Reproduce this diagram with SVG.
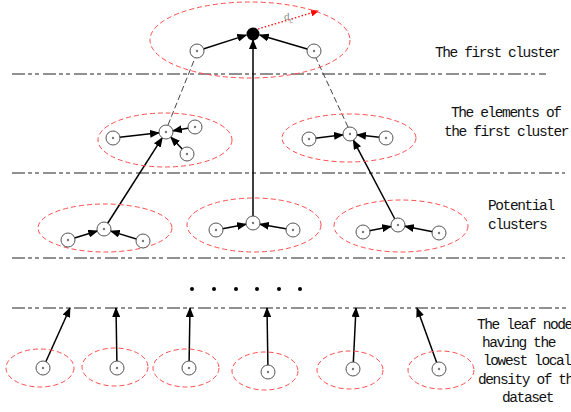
<svg xmlns="http://www.w3.org/2000/svg" width="571" height="412" viewBox="0 0 571 412">
<style>
.sep{stroke:#222;stroke-width:1;stroke-dasharray:13 3 4 3 4 4;fill:none}
.cl{fill:none;stroke:#ff4d4d;stroke-width:1;stroke-dasharray:5 3}
.nd{fill:#fff;stroke:#555;stroke-width:1}
.ndot{fill:#777}
.ar{stroke:#000;stroke-width:1.5;fill:none;marker-end:url(#ah)}
.dl{stroke:#444;stroke-width:1;stroke-dasharray:6 3;fill:none}
.lbl{font-family:"Liberation Mono",monospace;font-size:14.5px;letter-spacing:-1.4px;fill:#111}
</style>
<defs>
<marker id="ah" markerUnits="userSpaceOnUse" markerWidth="10" markerHeight="8" refX="9" refY="4" orient="auto">
<path d="M0,0 L10,4 L0,8 z" fill="#000"/>
</marker>
<marker id="rah" markerUnits="userSpaceOnUse" markerWidth="8" markerHeight="7" refX="7" refY="3.5" orient="auto">
<path d="M0,0 L8,3.5 L0,7 z" fill="#f00"/>
</marker>
</defs>

<g id="separators">
<line class="sep" x1="12" y1="74" x2="546" y2="74"/>
<line class="sep" x1="12" y1="173" x2="565" y2="173"/>
<line class="sep" x1="12" y1="258" x2="565" y2="258"/>
<line class="sep" x1="12" y1="308" x2="566" y2="308"/>
</g>

<g id="labels">
<text class="lbl" x="435" y="57">The first cluster</text>
<text class="lbl" x="451" y="117">The elements of</text>
<text class="lbl" x="444" y="136">the first cluster</text>
<text class="lbl" x="488" y="210">Potential</text>
<text class="lbl" x="488" y="229">clusters</text>
<text class="lbl" x="477" y="329">The leaf node</text>
<text class="lbl" x="482" y="347">having the</text>
<text class="lbl" x="483" y="365">lowest local</text>
<text class="lbl" x="478" y="384">density of the</text>
<text class="lbl" x="502" y="402">dataset</text>
</g>

<g id="dots">
<circle cx="192" cy="289" r="2" fill="#000"/>
<circle cx="214" cy="289" r="2" fill="#000"/>
<circle cx="236" cy="289" r="2" fill="#000"/>
<circle cx="257" cy="289" r="2" fill="#000"/>
<circle cx="279" cy="289" r="2" fill="#000"/>
<circle cx="300" cy="289" r="2" fill="#000"/>
</g>

<g id="connectors">
<line class="dl" x1="168" y1="125" x2="195" y2="58"/>
<line class="dl" x1="348" y1="127" x2="316" y2="58"/>
<line class="ar" x1="197" y1="51" x2="246.3" y2="35.1"/>
<line class="ar" x1="314" y1="51" x2="259.7" y2="35"/>
<line class="ar" x1="253" y1="223" x2="253" y2="40"/>
<line class="ar" x1="113" y1="138" x2="159" y2="132.8"/>
<line class="ar" x1="195" y1="127" x2="172.9" y2="130.8"/>
<line class="ar" x1="187" y1="154" x2="170.8" y2="137.1"/>
<line class="ar" x1="104" y1="229" x2="162.2" y2="137.9"/>
<line class="ar" x1="309" y1="139" x2="343" y2="134.8"/>
<line class="ar" x1="386" y1="138" x2="357" y2="134.8"/>
<line class="ar" x1="398" y1="225" x2="353.3" y2="140.2"/>
<line class="ar" x1="68" y1="240" x2="97.3" y2="231"/>
<line class="ar" x1="143" y1="241" x2="110.7" y2="231.1"/>
<line class="ar" x1="216" y1="230" x2="246.1" y2="224.3"/>
<line class="ar" x1="293" y1="230" x2="259.9" y2="224.2"/>
<line class="ar" x1="363" y1="232" x2="391.1" y2="226.4"/>
<line class="ar" x1="439" y1="233" x2="404.9" y2="226.3"/>
<line class="ar" x1="43" y1="368" x2="70" y2="308"/>
<line class="ar" x1="117" y1="368" x2="116" y2="308"/>
<line class="ar" x1="189" y1="368" x2="190" y2="308"/>
<line class="ar" x1="268" y1="372" x2="267" y2="308"/>
<line class="ar" x1="353" y1="369" x2="356" y2="308"/>
<line class="ar" x1="439" y1="369" x2="417" y2="308"/>
<line x1="258" y1="29" x2="318" y2="11" stroke="#f00" stroke-width="1.3" stroke-dasharray="1.5 2" marker-end="url(#rah)"/>
</g>

<g id="cluster-top">
<ellipse class="cl" cx="250" cy="40" rx="100" ry="38"/>
<circle cx="253" cy="34" r="6.5" fill="#000"/>
<text x="284" y="20" font-family="Liberation Serif, serif" font-size="11" fill="#888">d<tspan font-size="7.5" dy="3">c</tspan></text>
</g>
<g id="n-top-left"><circle class="nd" cx="197" cy="51" r="7"/><circle class="ndot" cx="197" cy="51" r="1.2"/></g>
<g id="n-top-right"><circle class="nd" cx="314" cy="51" r="7"/><circle class="ndot" cx="314" cy="51" r="1.2"/></g>

<g id="cluster-e1">
<ellipse class="cl" cx="165" cy="140" rx="67" ry="27"/>
<circle class="nd" cx="113" cy="138" r="7"/><circle class="ndot" cx="113" cy="138" r="1.2"/>
<circle class="nd" cx="166" cy="132" r="7"/><circle class="ndot" cx="166" cy="132" r="1.2"/>
<circle class="nd" cx="195" cy="127" r="7"/><circle class="ndot" cx="195" cy="127" r="1.2"/>
<circle class="nd" cx="187" cy="154" r="7"/><circle class="ndot" cx="187" cy="154" r="1.2"/>
</g>
<g id="cluster-e2">
<ellipse class="cl" cx="349" cy="138" rx="67" ry="24"/>
<circle class="nd" cx="309" cy="139" r="7"/><circle class="ndot" cx="309" cy="139" r="1.2"/>
<circle class="nd" cx="350" cy="134" r="7"/><circle class="ndot" cx="350" cy="134" r="1.2"/>
<circle class="nd" cx="386" cy="138" r="7"/><circle class="ndot" cx="386" cy="138" r="1.2"/>
</g>

<g id="cluster-p1">
<ellipse class="cl" cx="105" cy="228" rx="67" ry="24"/>
<circle class="nd" cx="68" cy="240" r="7"/><circle class="ndot" cx="68" cy="240" r="1.2"/>
<circle class="nd" cx="104" cy="229" r="7"/><circle class="ndot" cx="104" cy="229" r="1.2"/>
<circle class="nd" cx="143" cy="241" r="7"/><circle class="ndot" cx="143" cy="241" r="1.2"/>
</g>
<g id="cluster-p2">
<ellipse class="cl" cx="254" cy="225" rx="67" ry="27"/>
<circle class="nd" cx="216" cy="230" r="7"/><circle class="ndot" cx="216" cy="230" r="1.2"/>
<circle class="nd" cx="253" cy="223" r="7"/><circle class="ndot" cx="253" cy="223" r="1.2"/>
<circle class="nd" cx="293" cy="230" r="7"/><circle class="ndot" cx="293" cy="230" r="1.2"/>
</g>
<g id="cluster-p3">
<ellipse class="cl" cx="401" cy="226" rx="67" ry="26"/>
<circle class="nd" cx="363" cy="232" r="7"/><circle class="ndot" cx="363" cy="232" r="1.2"/>
<circle class="nd" cx="398" cy="225" r="7"/><circle class="ndot" cx="398" cy="225" r="1.2"/>
<circle class="nd" cx="439" cy="233" r="7"/><circle class="ndot" cx="439" cy="233" r="1.2"/>
</g>

<g id="leaf-1"><ellipse class="cl" cx="40" cy="368" rx="34" ry="19"/><circle class="nd" cx="43" cy="368" r="7"/><circle class="ndot" cx="43" cy="368" r="1.2"/></g>
<g id="leaf-2"><ellipse class="cl" cx="115" cy="367" rx="33" ry="19"/><circle class="nd" cx="117" cy="368" r="7"/><circle class="ndot" cx="117" cy="368" r="1.2"/></g>
<g id="leaf-3"><ellipse class="cl" cx="186" cy="368" rx="33" ry="19"/><circle class="nd" cx="189" cy="368" r="7"/><circle class="ndot" cx="189" cy="368" r="1.2"/></g>
<g id="leaf-4"><ellipse class="cl" cx="265" cy="371" rx="33" ry="19"/><circle class="nd" cx="268" cy="372" r="7"/><circle class="ndot" cx="268" cy="372" r="1.2"/></g>
<g id="leaf-5"><ellipse class="cl" cx="350" cy="370" rx="33" ry="19"/><circle class="nd" cx="353" cy="369" r="7"/><circle class="ndot" cx="353" cy="369" r="1.2"/></g>
<g id="leaf-6"><ellipse class="cl" cx="441" cy="370" rx="33" ry="19"/><circle class="nd" cx="439" cy="369" r="7"/><circle class="ndot" cx="439" cy="369" r="1.2"/></g>
</svg>
